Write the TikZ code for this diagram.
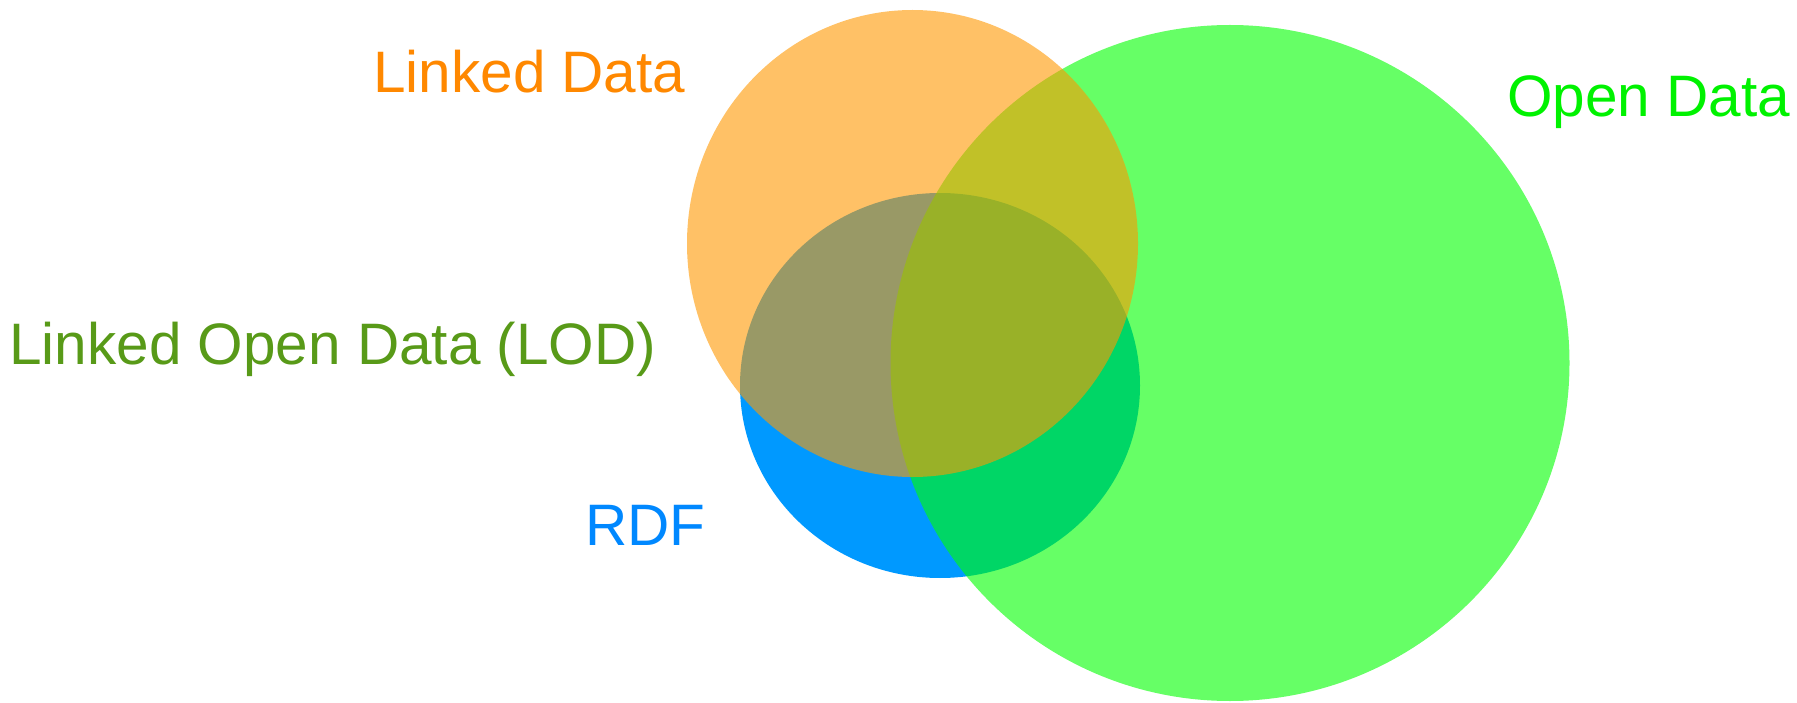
\documentclass[tikz,border=0pt]{standalone}
\usepackage{fontspec}
\setmainfont{Liberation Sans}
\definecolor{rdfblue}{HTML}{0099FF}
\definecolor{opengreen}{HTML}{00FF00}
\definecolor{linkedorange}{HTML}{FF9900}
\definecolor{ldtext}{HTML}{FF8800}
\definecolor{odtext}{HTML}{00F200}
\definecolor{lodtext}{HTML}{589A18}
\definecolor{rdftext}{HTML}{0088FF}
\tikzset{
  lbl/.style={inner sep=0pt, anchor=base west, font=\fontsize{58.5pt}{70pt}\selectfont},
  setfill/.style={fill opacity=0.6}
}
\begin{document}
\begin{tikzpicture}[x=1pt,y=-1pt]
\useasboundingbox (0,0) rectangle (1797,703);
\fill[white] (0,0) rectangle (1797,703);
% RDF (opaque, drawn first)
\fill[rdfblue] (940,385.5) ellipse [x radius=200, y radius=192.5];
% Open Data
\fill[opengreen, setfill] (1230,363) ellipse [x radius=339.5, y radius=338];
% Linked Data
\fill[linkedorange, setfill] (912.5,243.5) ellipse [x radius=225.5, y radius=233.5];
% labels
\node[lbl, text=ldtext] (ld) at (373,93) {Linked Data};
\node[lbl, text=odtext] (od) at (1507,117) {Open Data};
\node[lbl, text=lodtext] (lod) at (9,365) {Linked Open Data (LOD)};
\node[lbl, text=rdftext] (rdf) at (585,545) {RDF};
\end{tikzpicture}
\end{document}
